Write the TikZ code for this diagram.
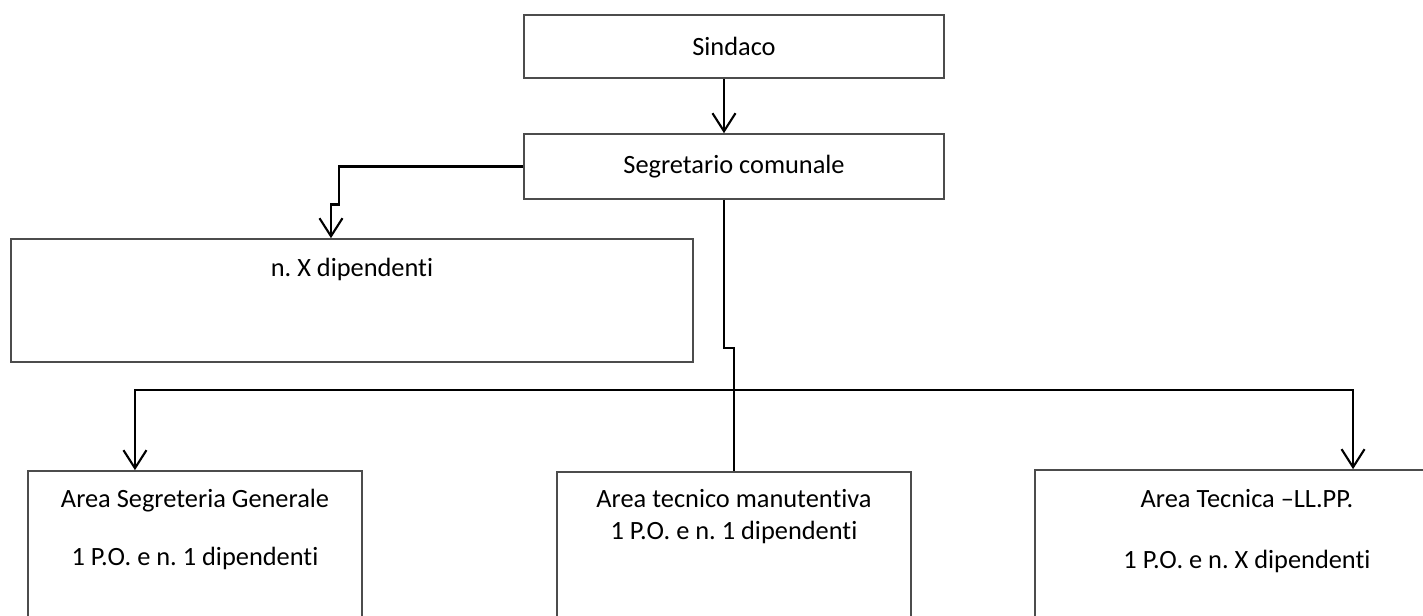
\documentclass[tikz,border=0pt]{standalone}
\usepackage{fontspec}
\setmainfont{Carlito}[Ligatures=NoCommon]
\usetikzlibrary{arrows.meta, positioning}
\frenchspacing

\begin{document}
\begin{tikzpicture}[x=0.01cm, y=-0.01cm, font=\fontsize{7.5}{9.3}\selectfont, >={Straight Barb[length=1.8mm, width=2.3mm]},
  orgbox/.style={draw=black!70, line width=0.45pt, inner sep=0pt},
  boxtext/.style={inner sep=0pt, align=center, anchor=north},
  link/.style={draw, line width=0.6pt}]
\clip (0,0) rectangle (1423,616);
\node[orgbox, minimum width=4.2cm, minimum height=0.63cm] (sind) at (734,46.5) {Sindaco};
\node[orgbox, minimum width=4.2cm, minimum height=0.65cm] (segr) at (734,166.5) {Segretario comunale};
\node[orgbox, minimum width=6.82cm, minimum height=1.23cm] (nx) at (352,300.5) {};
\node[orgbox, minimum width=3.34cm, minimum height=2cm] (lft) at (195,571) {};
\node[orgbox, minimum width=3.54cm, minimum height=2cm] (mid) at (734,572) {};
\node[orgbox, minimum width=4.24cm, minimum height=2cm] (rgt) at (1247,570) {};
\node[boxtext, below=0.19cm of nx.north] (nxtext) {n. X dipendenti};
\node[boxtext, below=0.18cm of lft.north] (lfttext) {Area Segreteria Generale\\[7.4pt] 1 P.O. e n. 1 dipendenti};
\node[boxtext, below=0.17cm of mid.north] (midtext) {Area tecnico manutentiva\\ 1 P.O. e n. 1 dipendenti};
\node[boxtext, below=0.19cm of rgt.north] (rgttext) {Area Tecnica –LL.PP.\\[8.2pt] 1 P.O. e n. X dipendenti};
\coordinate (bus) at (733,390);
\draw[link, ->] ([xshift=-0.1cm]sind.south) -- ([xshift=-0.1cm]segr.north);
\draw[link, ->] (segr.west) -| ++(-184,38) -| ([xshift=-0.21cm]nx.north);
\draw[link] ([xshift=-0.1cm]segr.south) -- ++(0,148) -| (mid.north);
\draw[link, ->] (bus) -| ([xshift=-0.6cm]lft.north);
\draw[link, ->] (bus) -| ([xshift=1.06cm]rgt.north);
\end{tikzpicture}
\end{document}
